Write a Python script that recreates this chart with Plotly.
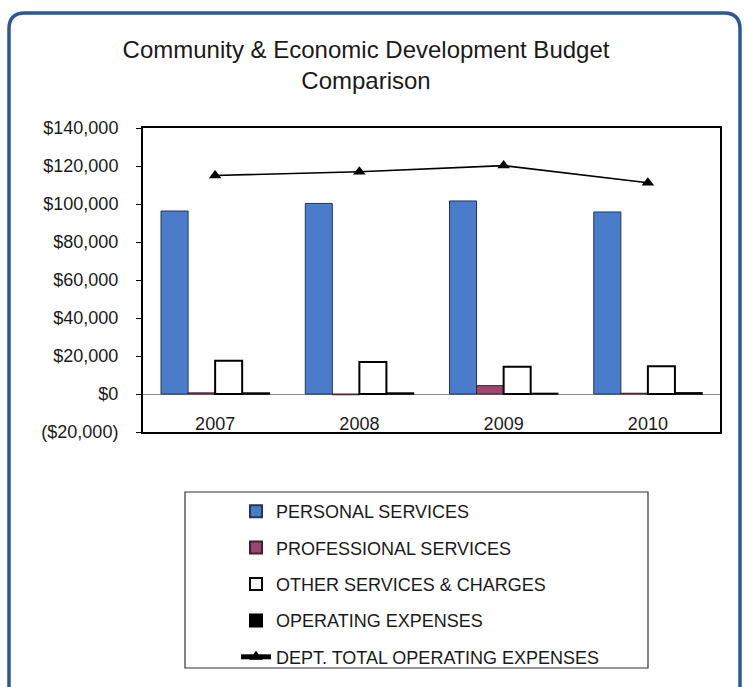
import plotly.graph_objects as go

# Budget data by fiscal year
years = ["2007", "2008", "2009", "2010"]
personal_services = [96300, 100300, 101600, 95800]
professional_services = [600, -400, 4400, 400]
other_services_charges = [17500, 16900, 14400, 14600]
operating_expenses = [500, 500, 300, 600]
dept_total = [115000, 117000, 120200, 111200]

y_tick_values = [-20000, 0, 20000, 40000, 60000, 80000, 100000, 120000, 140000]
y_tick_labels = ["($20,000)", "$0", "$20,000", "$40,000", "$60,000",
                 "$80,000", "$100,000", "$120,000", "$140,000"]

W, H = 744, 687
M_L, M_R, M_T, M_B = 143, 24, 128, 255
PLOT_W = W - M_L - M_R
PLOT_H = H - M_T - M_B
FONT = "Liberation Sans, Arial, sans-serif"


def px_x(x):
    return (x - M_L) / PLOT_W


def px_y(y):
    return (H - M_B - y) / PLOT_H


fig = go.Figure()
fig.add_trace(go.Bar(
    x=years, y=personal_services, name="PERSONAL SERVICES",
    marker=dict(color="#4a7cca", line=dict(color="#1e3560", width=1)),
    legendgroup="a"))
fig.add_trace(go.Bar(
    x=years, y=professional_services, name="PROFESSIONAL SERVICES",
    marker=dict(color="#a2426f", line=dict(color="#3a2030", width=1)),
    legendgroup="b"))
fig.add_trace(go.Bar(
    x=years, y=other_services_charges, name="OTHER SERVICES & CHARGES",
    marker=dict(color="#ffffff", line=dict(color="#000000", width=2)),
    legendgroup="c"))
fig.add_trace(go.Bar(
    x=years, y=operating_expenses, name="OPERATING EXPENSES",
    marker=dict(color="#000000", line=dict(color="#000000", width=1.5)),
    legendgroup="d"))
# total line lives on the overlaid category axis that carries the year labels
fig.add_trace(go.Scatter(
    x=years, y=dept_total, name="DEPT. TOTAL OPERATING EXPENSES",
    xaxis="x2", yaxis="y",
    mode="lines+markers",
    line=dict(color="#000000", width=1.6),
    marker=dict(symbol="triangle-up", size=11, color="#000000"),
    legendgroup="e"))

# Rounded outer frame around the whole chart
fx0, fy0, fx1, fy1, r = 9, 13, 740, 690, 16
frame_path = (
    f"M {px_x(fx0)},{px_y(fy1)} "
    f"L {px_x(fx0)},{px_y(fy0 + r)} "
    f"Q {px_x(fx0)},{px_y(fy0)} {px_x(fx0 + r)},{px_y(fy0)} "
    f"L {px_x(fx1 - r)},{px_y(fy0)} "
    f"Q {px_x(fx1)},{px_y(fy0)} {px_x(fx1)},{px_y(fy0 + r)} "
    f"L {px_x(fx1)},{px_y(fy1)}"
)

shapes = [
    dict(type="path", xref="paper", yref="paper", path=frame_path,
         line=dict(color="#2c5796", width=3.5), layer="above"),
    # legend box
    dict(type="rect", xref="paper", yref="paper",
         x0=px_x(185), x1=px_x(648), y0=px_y(668), y1=px_y(492),
         line=dict(color="#333333", width=1.2), fillcolor="rgba(0,0,0,0)"),
]

fig.update_layout(
    width=W, height=H,
    margin=dict(l=M_L, r=M_R, t=M_T, b=M_B),
    paper_bgcolor="#ffffff",
    plot_bgcolor="#ffffff",
    font=dict(family=FONT, size=18, color="#1a1a1a"),
    title=dict(
        text="Community & Economic Development Budget<br>Comparison",
        x=366 / W, xanchor="center", xref="container",
        y=1 - 58 / H, yanchor="top", yref="container",
        font=dict(family=FONT, size=24, color="#1a1a1a"),
    ),
    barmode="group",
    bargap=0.25,
    bargroupgap=0,
    showlegend=True,
    legend=dict(
        x=px_x(236), y=px_y(493), xanchor="left", yanchor="top",
        xref="paper", yref="paper",
        traceorder="grouped", tracegroupgap=10,
        font=dict(family=FONT, size=18, color="#1a1a1a"),
        bgcolor="rgba(0,0,0,0)", borderwidth=0,
        itemsizing="constant",
    ),
    shapes=shapes,
    xaxis=dict(
        type="category",
        range=[-0.5, len(years) - 0.5],
        showline=True, linecolor="#000000", linewidth=1.5, mirror=True,
        ticks="", showgrid=False, showticklabels=False,
    ),
    # category labels sit just above the bottom frame line
    xaxis2=dict(
        type="category",
        overlaying="x", anchor="free", position=px_y(411), side="bottom",
        range=[-0.5, len(years) - 0.5],
        showline=False, ticks="", showgrid=False, zeroline=False,
        tickfont=dict(family=FONT, size=18, color="#1a1a1a"),
    ),
    yaxis=dict(
        range=[-20000, 140000],
        tickvals=y_tick_values, ticktext=y_tick_labels,
        showline=True, linecolor="#000000", linewidth=2, mirror=True,
        ticks="outside", ticklen=5, tickcolor="#000000", tickwidth=1,
        ticklabelstandoff=14,
        showgrid=False,
        zeroline=True, zerolinecolor="#8a8a8a", zerolinewidth=1.2,
        tickfont=dict(family=FONT, size=18, color="#1a1a1a"),
    ),
)

fig.write_html("out.html")
